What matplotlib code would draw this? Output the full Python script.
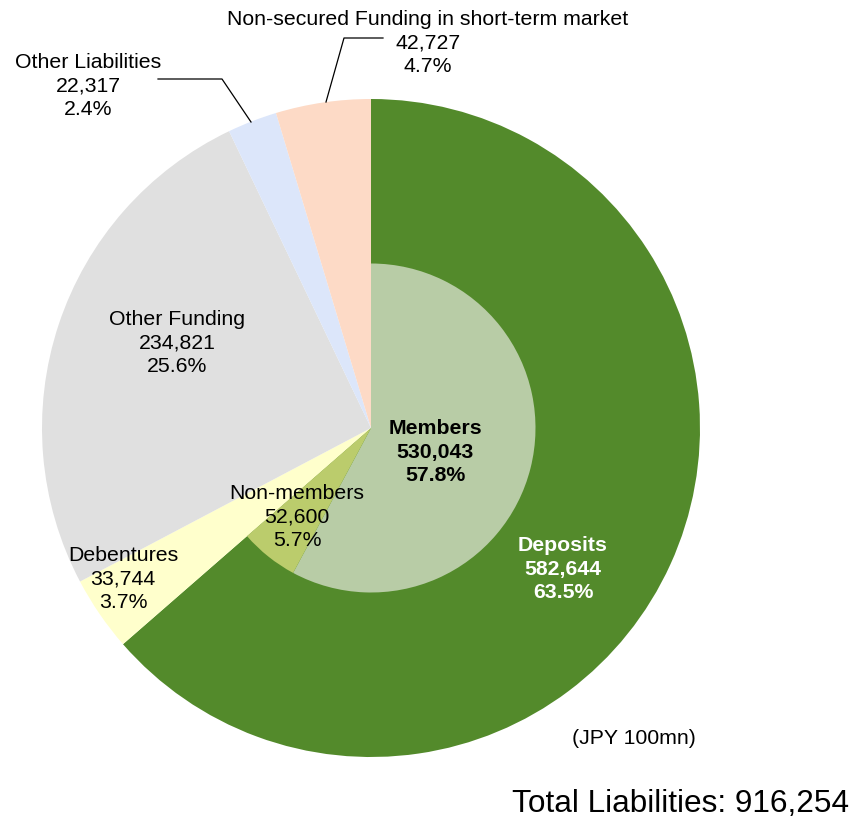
import matplotlib
matplotlib.use("Agg")
import matplotlib.pyplot as plt

plt.rcParams["font.family"] = ["Liberation Sans", "DejaVu Sans"]

# Liabilities breakdown (JPY 100mn)
outer_labels = ["Deposits", "Debentures", "Other Funding", "Other Liabilities",
                "Non-secured Funding in short-term market"]
outer_values = [582644, 33744, 234821, 22317, 42727]
outer_pct = ["63.5%", "3.7%", "25.6%", "2.4%", "4.7%"]
outer_colors = ["#538A2B", "#FFFFCC", "#E0E0E0", "#DCE6FA", "#FDDAC6"]

inner_labels = ["Members", "Non-members"]
inner_values = [530043, 52600]
inner_pct = ["57.8%", "5.7%"]
inner_colors = ["#B8CCA6", "#BBCC6C"]

total = 916254

W, H = 854, 821
R_PX = 329.0
CX, CY = 371.0, 428.0

fig = plt.figure(figsize=(W / 100, H / 100), dpi=100)
ax = fig.add_axes([0, 0, 1, 1])
ax.axis("off")


def P(px, py):
    """Pixel position (from top-left) to data coordinates."""
    return (px - CX) / R_PX, (CY - py) / R_PX


ax.pie(outer_values, colors=outer_colors, startangle=90, counterclock=False,
       radius=1.0, wedgeprops=dict(linewidth=0))
ax.pie(inner_values + [total - sum(inner_values)],
       colors=inner_colors + ["none"], startangle=90, counterclock=False,
       radius=0.5, wedgeprops=dict(linewidth=0))
ax.set_xlim(-CX / R_PX, (W - CX) / R_PX)
ax.set_ylim(-(H - CY) / R_PX, CY / R_PX)
ax.set_aspect("auto")

FS = 15.3


def label(text_lines, px, py, **kw):
    x, y = P(px, py)
    ax.text(x, y, "\n".join(text_lines), ha="center", va="center",
            fontsize=FS, linespacing=1.31, **kw)


def fmt(v):
    return f"{v:,}"


# outer ring labels
label([outer_labels[0], fmt(outer_values[0]), outer_pct[0]], 563, 569,
      color="white", fontweight="bold")
label([outer_labels[1], fmt(outer_values[1]), outer_pct[1]], 123, 579)
label([outer_labels[2], fmt(outer_values[2]), outer_pct[2]], 177, 343)
label([outer_labels[3], fmt(outer_values[3]), outer_pct[3]], 88, 86)
label([outer_labels[4], fmt(outer_values[4]), outer_pct[4]], 428, 43)

# inner ring labels
label([inner_labels[0], fmt(inner_values[0]), inner_pct[0]], 435, 452,
      fontweight="bold")
label([inner_labels[1], fmt(inner_values[1]), inner_pct[1]], 297, 517)

# leader lines
for pts in ([(383, 38), (344, 38), (326, 102)],
            [(158, 79), (222, 79), (251, 122)]):
    xs, ys = zip(*[P(*p) for p in pts])
    ax.plot(xs, ys, color="black", lw=0.9)

x, y = P(634, 738)
ax.text(x, y, "(JPY 100mn)", ha="center", va="center", fontsize=FS)
x, y = P(681, 804)
ax.text(x, y, f"Total Liabilities: {total:,}", ha="center", va="center",
        fontsize=22.7)

fig.savefig("out.png", dpi=100)
